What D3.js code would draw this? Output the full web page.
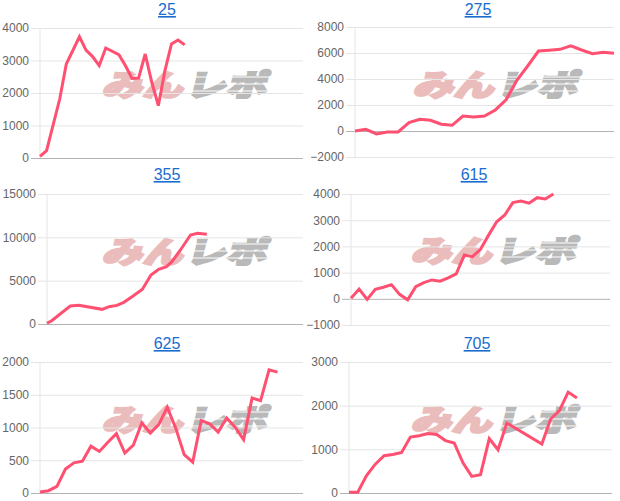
<!DOCTYPE html>
<html>
<head>
<meta charset="utf-8">
<script src="https://cdn.jsdelivr.net/npm/d3@7"></script>
<style>
  body { margin: 0; background: #fff; }
  svg { display: block; font-family: "Liberation Sans", Arial, Helvetica, sans-serif; }
</style>
</head>
<body>
<svg id="chart" width="620" height="501"></svg>
<script>
// chart titles
var titles = ["25", "275", "355", "615", "625", "705"];

// x = day index, y = value, one pair of arrays per chart
var days25 = [0, 1, 3, 4, 6, 7, 8, 9, 10, 12, 13, 14, 15, 16, 17, 18, 19, 20, 21, 22];
var vals25 = [50, 225, 1815, 2890, 3730, 3320, 3120, 2840, 3385, 3180, 2840, 2450, 2460, 3200, 2330, 1610, 2690, 3510, 3630, 3480];

var days275 = [0, 1, 2, 3, 4, 5, 6, 7, 8, 9, 10, 11, 12, 13, 14, 15, 16, 17, 18, 19, 20, 21, 22, 23, 24];
var vals275 = [0, 130, -230, -75, -75, 650, 900, 820, 520, 440, 1150, 1080, 1150, 1620, 2400, 3900, 5000, 6150, 6210, 6280, 6550, 6230, 5950, 6050, 5980];

var days355 = [0, 0.6, 3, 4.1, 7.1, 8, 9, 9.9, 11.1, 12.3, 13.4, 14.4, 15.4, 16.1, 17.2, 18.5, 19.4, 20.6];
var vals355 = [80, 380, 2080, 2150, 1690, 2000, 2150, 2500, 3230, 4000, 5650, 6310, 6620, 7190, 8540, 10270, 10460, 10350];

var days615 = [0, 1, 2, 3, 4, 5, 6, 7, 8, 9, 10, 11, 12, 13, 14, 15, 16, 17, 18, 19, 20, 21, 22, 23, 24, 25];
var vals615 = [20, 370, -20, 360, 440, 540, 170, -40, 460, 615, 720, 670, 800, 950, 1670, 1610, 1890, 2430, 2940, 3200, 3670, 3730, 3650, 3860, 3810, 4000];

var days625 = [0, 1, 2, 3, 4, 5, 6, 7, 8, 9, 10, 11, 12, 13, 14, 15, 16, 17, 18, 19, 20, 21, 22, 23, 24, 25, 26, 27, 28];
var vals625 = [15, 35, 100, 365, 460, 485, 715, 635, 775, 905, 610, 730, 1070, 915, 1045, 1310, 990, 585, 470, 1105, 1055, 930, 1145, 1005, 815, 1450, 1410, 1880, 1845];

var days705 = [0, 1, 2, 3, 4, 5, 6, 7, 8, 9, 10, 11, 12, 13, 14, 15, 16, 17, 18, 22, 23, 24, 25, 26];
var vals705 = [20, 20, 400, 660, 855, 880, 930, 1280, 1310, 1360, 1340, 1200, 1145, 690, 380, 420, 1245, 990, 1600, 1120, 1695, 1885, 2310, 2175];

// tick labels on the value axis
var ticks25 = [0, 1000, 2000, 3000, 4000];
var ticks275 = [-2000, 0, 2000, 4000, 6000, 8000];
var ticks355 = [0, 5000, 10000, 15000];
var ticks615 = [-1000, 0, 1000, 2000, 3000, 4000];
var ticks625 = [0, 500, 1000, 1500, 2000];
var ticks705 = [0, 1000, 2000, 3000];

// length of the day axis for each chart
var dayMax = [40, 24, 33, 32, 31, 30];

var series = [
  {days: days25, vals: vals25, ticks: ticks25},
  {days: days275, vals: vals275, ticks: ticks275},
  {days: days355, vals: vals355, ticks: ticks355},
  {days: days615, vals: vals615, ticks: ticks615},
  {days: days625, vals: vals625, ticks: ticks625},
  {days: days705, vals: vals705, ticks: ticks705}
];

// layout of each small chart (plot box, title, watermark)
var layout = [
  {l: 40,  r: 303, t: 28,  b: 158, tx: 167, ty: 15,  wx: 184, wy: 84},
  {l: 355, r: 614, t: 27,  b: 157, tx: 478, ty: 15,  wx: 495, wy: 84},
  {l: 47,  r: 303, t: 194, b: 324, tx: 167, ty: 180, wx: 184, wy: 251},
  {l: 351, r: 610, t: 194, b: 325, tx: 474, ty: 180, wx: 493, wy: 250},
  {l: 40,  r: 303, t: 362, b: 493, tx: 167, ty: 349, wx: 184, wy: 419},
  {l: 349, r: 612, t: 362, b: 493, tx: 477, ty: 349, wx: 493, wy: 419}
];

var lineColor = "#ff5071";
var svg = d3.select("#chart");

series.forEach(function(s, i) {
  var L = layout[i];
  var g = svg.append("g").attr("class", "panel");

  var x = d3.scaleLinear().domain([0, dayMax[i]]).range([L.l, L.r]);
  var y = d3.scaleLinear().domain(d3.extent(s.ticks)).range([L.b, L.t]);

  // title (link style)
  g.append("text")
    .attr("x", L.tx)
    .attr("y", L.ty)
    .attr("text-anchor", "middle")
    .style("font-size", "16px")
    .style("fill", "#1a6ccf")
    .style("text-decoration", "underline")
    .text(titles[i]);

  // watermark behind the plot
  var wm = g.append("g")
    .attr("transform", "translate(" + L.wx + "," + (L.wy + 12) + ") skewX(-14) scale(1.35,1)")
    .style("font-family", "'Noto Sans CJK JP', sans-serif")
    .style("font-weight", "900")
    .style("font-size", "30px");
  wm.append("text")
    .attr("x", -1)
    .attr("text-anchor", "end")
    .style("fill", "#ebbcbc")
    .style("stroke", "#ebbcbc")
    .style("stroke-width", 2.2)
    .text("みん");
  wm.append("text")
    .attr("x", 1)
    .attr("text-anchor", "start")
    .style("fill", "#b9b9b9")
    .style("stroke", "#b9b9b9")
    .style("stroke-width", 2.2)
    .text("レポ");
  // speed stripes across the grey half
  [-19, -12, -5].forEach(function(dy) {
    wm.append("line")
      .attr("x1", 2).attr("x2", 64)
      .attr("y1", dy).attr("y2", dy)
      .attr("stroke", "#fff")
      .attr("stroke-width", 1.2);
  });

  // value gridlines with tick marks
  var yAxis = d3.axisLeft(y)
    .tickValues(s.ticks)
    .tickSize(-(L.r - L.l + 9))
    .tickPadding(11)
    .tickFormat(d3.format("d"));

  var ax = g.append("g")
    .attr("transform", "translate(" + (L.l - 9) + ",0)")
    .call(yAxis);
  ax.select(".domain").remove();
  ax.selectAll(".tick line")
    .attr("x1", 0)
    .attr("x2", L.r - L.l + 9)
    .attr("stroke", function(d) { return d === 0 ? "#b3b3b3" : "#e5e5e5"; });
  ax.selectAll(".tick text")
    .attr("x", -2)
    .style("font-size", "12px")
    .style("fill", "#666");

  // left border of the plot
  g.append("line")
    .attr("x1", L.l).attr("x2", L.l)
    .attr("y1", L.t).attr("y2", L.b)
    .attr("stroke", "#e5e5e5");

  // the series line
  var pts = s.days.map(function(d, k) { return [d, s.vals[k]]; });
  var line = d3.line()
    .x(function(d) { return x(d[0]); })
    .y(function(d) { return y(d[1]); });

  g.append("path")
    .datum(pts)
    .attr("d", line)
    .attr("fill", "none")
    .attr("stroke", lineColor)
    .attr("stroke-width", 3)
    .attr("stroke-linejoin", "miter");
});
</script>
</body>
</html>
